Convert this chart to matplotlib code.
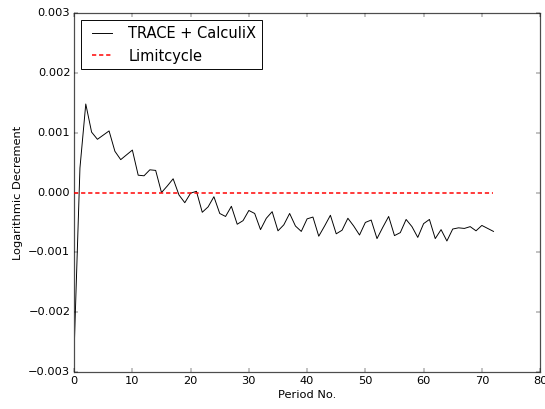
import numpy as np
import matplotlib
matplotlib.use('Agg')
import matplotlib.pyplot as plt

periods = list(range(0, 73))
log_dec = [
	-0.00265, 0.00041, 0.00148, 0.00101, 0.00089, 0.00096, 0.00103, 0.00069, 0.00055, 0.00063,
	0.00071, 0.00029, 0.00028, 0.00038, 0.00037, 0.00000, 0.00011, 0.00023, -0.00004, -0.00017,
	-0.00001, 0.00002, -0.00033, -0.00024, -0.00007, -0.00035, -0.00040, -0.00023, -0.00053, -0.00047,
	-0.00030, -0.00035, -0.00062, -0.00043, -0.00032, -0.00064, -0.00054, -0.00035, -0.00056, -0.00065,
	-0.00044, -0.00041, -0.00073, -0.00056, -0.00038, -0.00069, -0.00063, -0.00043, -0.00056, -0.00071,
	-0.00050, -0.00046, -0.00077, -0.00058, -0.00040, -0.00072, -0.00067, -0.00045, -0.00057, -0.00075,
	-0.00052, -0.00045, -0.00077, -0.00062, -0.00081, -0.00061, -0.00059, -0.00060, -0.00057, -0.00064,
	-0.00055, -0.00060, -0.00065,
]
limit_x = [0, 72]
limit_y = [0.0, 0.0]

plt.style.use('classic')
fig = plt.figure(figsize=(545 / 68.0, 409 / 68.0), dpi=68, facecolor='white')
ax = fig.add_axes([0.136, 0.0905, 0.855, 0.8775])

ax.plot(periods, log_dec, color='black', linestyle='-', linewidth=1.0, label='TRACE + CalculiX')
ax.plot(limit_x, limit_y, color='#ff0000', linestyle=(0, (4.5, 3)), linewidth=1.6,
	dash_capstyle='butt', zorder=3, label='Limitcycle')

ax.set_xlim(0, 80)
ax.set_ylim(-0.003, 0.003)
ax.set_yticks(np.arange(-0.003, 0.0031, 0.001))
ax.set_xlabel('Period No.')
ax.set_ylabel('Logarithmic Decrement')
for sp in ax.spines.values():
	sp.set_linewidth(1.3)
	sp.set_edgecolor('0.3')
ax.legend(loc='upper left', fontsize=15.5)

fig.savefig('out.png', dpi=68, facecolor='white')
